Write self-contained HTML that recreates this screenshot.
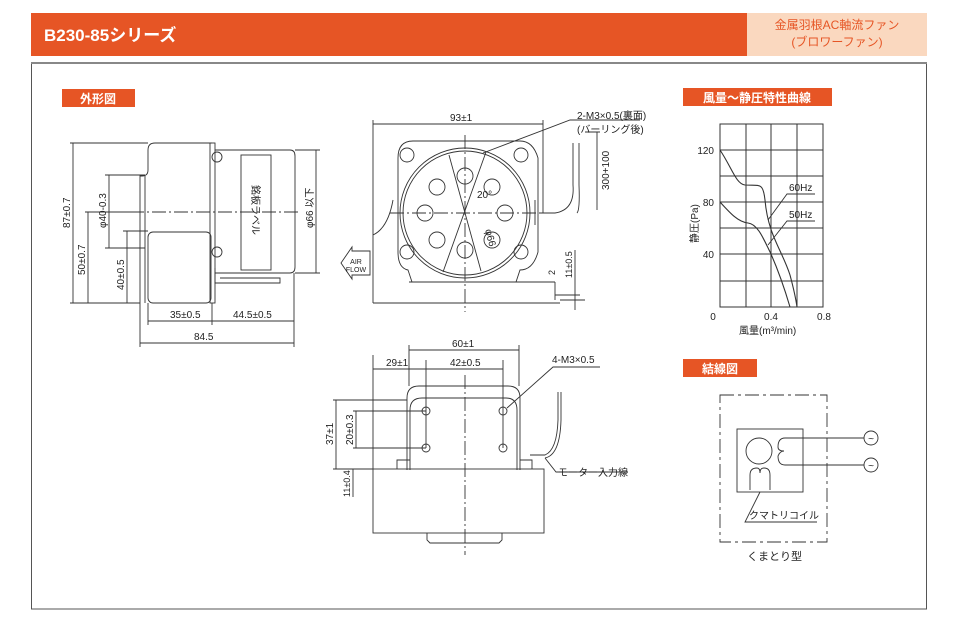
<!DOCTYPE html>
<html><head><meta charset="utf-8"><style>
html,body{margin:0;padding:0;background:#fff;width:960px;height:620px;overflow:hidden}
svg{display:block}
text{font-family:"Liberation Sans","Noto Sans CJK JP",sans-serif;fill:#222}
</style></head><body>
<svg width="960" height="620" viewBox="0 0 960 620" xmlns="http://www.w3.org/2000/svg">
<!-- header -->
<rect x="31" y="13" width="716" height="43" fill="#e65525"/>
<rect x="747" y="13" width="180" height="43" fill="#fad8bf"/>
<text x="44" y="41" font-size="17" font-weight="bold" style="fill:#fff">B230-85シリーズ</text>
<text x="837" y="29" font-size="12" text-anchor="middle" style="fill:#e65525">金属羽根AC軸流ファン</text>
<text x="837" y="46" font-size="12" text-anchor="middle" style="fill:#e65525">(ブロワーファン)</text>
<rect x="31.5" y="63" width="895" height="546" fill="none" stroke="#555" stroke-width="1"/>
<line x1="31" y1="63" x2="927" y2="63" stroke="#888" stroke-width="2"/>
<!-- tabs -->
<rect x="62" y="89" width="73" height="18" fill="#e65525"/>
<text x="98" y="103" font-size="12" font-weight="bold" text-anchor="middle" style="fill:#fff">外形図</text>
<rect x="683" y="88" width="149" height="18" fill="#e65525"/>
<text x="757" y="102" font-size="12" font-weight="bold" text-anchor="middle" style="fill:#fff">風量～静圧特性曲線</text>
<rect x="683" y="359" width="74" height="18" fill="#e65525"/>
<text x="720" y="373" font-size="12" font-weight="bold" text-anchor="middle" style="fill:#fff">結線図</text>

<g fill="none" stroke="#333" stroke-width="0.9">
<!-- side view -->
<path d="M212 143 H155 Q148 143 148 150 V170 Q148 176 142 176 H140 V303"/>
<line x1="145" y1="176" x2="145" y2="303"/>
<rect x="148" y="232" width="63" height="71" rx="5"/>
<rect x="210" y="143" width="5" height="160"/>
<path d="M215 150 H290 Q295 150 295 156 V267 Q295 273 290 273 H215"/>
<rect x="241" y="155" width="30" height="115"/>
<path d="M215 268 V283 H280 V278 H220"/>
<circle cx="217" cy="157" r="5"/><circle cx="217" cy="252" r="5"/>
<line x1="130" y1="212" x2="300" y2="212" stroke-dasharray="14 3 2 3"/>
<!-- side dims -->
<path d="M70 143 H148 M70 303 H140 M85 212 H130 M105 175 H145 M105 248 H145 M123 231 H148 M295 150 H320 M295 273 H320"/>
<path d="M73 143 V303 M88 212 V303 M109 175 V248 M127 231 V303 M316 150 V273"/>
<path d="M148 303 V325 M212 303 V325 M294 273 V347 M140 303 V347 M148 321 H294 M140 343 H294"/>
<!-- front view -->
<path d="M413 141 H520 Q533 141 538 158 V252 Q533 270 520 270 L516 282 H412 L408 270 Q398 268 398 252 V158 Q398 141 413 141 Z"/>
<circle cx="465" cy="213" r="65"/>
<circle cx="465" cy="213" r="62"/>
<g>
<circle cx="407" cy="155" r="7"/><circle cx="521" cy="155" r="7"/><circle cx="407" cy="252" r="7"/><circle cx="521" cy="252" r="7"/>
<circle cx="465" cy="176" r="8"/><circle cx="437" cy="187" r="8"/><circle cx="492" cy="187" r="8"/><circle cx="425" cy="213" r="8"/><circle cx="505" cy="213" r="8"/><circle cx="437" cy="240" r="8"/><circle cx="492" cy="240" r="8"/><circle cx="465" cy="250" r="8"/>
</g>
<line x1="465" y1="135" x2="465" y2="312" stroke-dasharray="14 3 2 3"/>
<line x1="390" y1="213" x2="540" y2="213" stroke-dasharray="14 3 2 3"/>
<path d="M449 155 L481 271 M486 152 L443 272"/>
<path d="M535 200 V225 M540 213 H555 Q575 210 573 185 V143"/>
<path d="M577 213 Q580 210 579 185 V143"/>
<path d="M409 282 H555 M373 303 H560 M373 124 H543 M373 120 V303 M543 120 V213 M373 235 Q388 228 393 200"/>
<path d="M555 282 V300 M555 295 H580 M575 250 V310 M585 300 H560"/>
<path d="M585 132 H600 M597 132 V210 M483 153 L570 120 H640"/>
<path d="M370 251 H352 V247 L341 263 L352 279 V275 H370 Z"/>
<!-- bottom view -->
<path d="M407 470 V398 Q407 386 419 386 H508 Q520 386 520 398 V470"/>
<path d="M410 470 V410 Q410 398 422 398 H506 Q517 398 517 410 V470"/>
<circle cx="426" cy="411" r="4"/><circle cx="503" cy="411" r="4"/><circle cx="426" cy="448" r="4"/><circle cx="503" cy="448" r="4"/>
<rect x="373" y="469" width="171" height="64"/>
<path d="M427 533 V540 L430 543 H499 L502 540 V533"/>
<path d="M397 469 V460 H410 M520 460 H532 V469"/>
<line x1="465" y1="375" x2="465" y2="555" stroke-dasharray="14 3 2 3"/>
<path d="M373 355 V469 M409 345 V386 M519 345 V386 M426 360 V448 M503 360 V448"/>
<path d="M409 350 H519 M373 369 H503"/>
<path d="M333 400 H407 M353 411 H426 M353 448 H426 M333 469 H373"/>
<path d="M336 400 V469 M356 411 V448 M353 469 V497"/>
<path d="M507 408 L553 367 H600 M530 455 H545 Q557 450 558 420 V392 M545 458 Q560 455 561 420 V392 M545 458 L556 472 H628"/>
<!-- chart -->
<rect x="720" y="124" width="103" height="183" stroke-width="1"/>
<path d="M746 124 V307 M771 124 V307 M797 124 V307 M720 150 H823 M720 176 H823 M720 202 H823 M720 228 H823 M720 254 H823 M720 281 H823" stroke-width="1"/>
<path d="M720 150 C732 168 736 184 745 185 C760 186 763 182 765 200 C768 235 782 250 790 275 C794 290 796 300 797 307" stroke-width="1.1"/>
<path d="M720 202 C730 213 738 222 748 223 C758 224 764 240 771 254 C778 270 785 290 790 307" stroke-width="1.1"/>
<path d="M768 220 L787 194 H815 M768 245 L787 221 H815"/>
<!-- wiring -->
<rect x="720" y="395" width="107" height="147" stroke-dasharray="14 4 3 4"/>
<rect x="737" y="429" width="66" height="63"/>
<circle cx="759" cy="451" r="13"/>
<path d="M785 438 H864 M785 465 H864 M785 438 Q778 438 778 447 Q778 451 784 451 Q780 451 778 456 Q778 465 785 465"/>
<circle cx="871" cy="438" r="7"/><circle cx="871" cy="465" r="7"/>
<path d="M750 490 V475 Q750 468 757 468 Q760 468 760 473 Q760 468 764 468 Q770 468 770 475 V490"/>
<path d="M760 492 L745 522 H817"/>
</g>
<!-- side view texts -->
<text x="70" y="228" font-size="10" transform="rotate(-90 70 228)">87±0.7</text>
<text x="85" y="275" font-size="10" transform="rotate(-90 85 275)">50±0.7</text>
<text x="106" y="228" font-size="10" transform="rotate(-90 106 228)">φ40-0.3</text>
<text x="124" y="290" font-size="10" transform="rotate(-90 124 290)">40±0.5</text>
<text x="313" y="228" font-size="10" transform="rotate(-90 313 228)">φ66 以下</text>
<text x="252" y="185" font-size="10" transform="rotate(90 252 185)">銘板ラベル</text>
<text x="170" y="318" font-size="10">35±0.5</text>
<text x="233" y="318" font-size="10">44.5±0.5</text>
<text x="194" y="340" font-size="10">84.5</text>
<!-- front texts -->
<text x="450" y="121" font-size="10">93±1</text>
<text x="577" y="119" font-size="10">2-M3×0.5(裏面)</text>
<text x="577" y="133" font-size="10">(バーリング後)</text>
<text x="609" y="190" font-size="10" transform="rotate(-90 609 190)">300+100</text>
<text x="477" y="198" font-size="10">20°</text>
<text x="485" y="230" font-size="10" transform="rotate(75 485 230)">φ66</text>
<text x="572" y="278" font-size="9" transform="rotate(-90 572 278)">11±0.5</text>
<text x="555" y="275" font-size="9" transform="rotate(-90 555 275)">2</text>
<text x="356" y="264" font-size="7" text-anchor="middle">AIR</text>
<text x="356" y="272" font-size="7" text-anchor="middle">FLOW</text>
<!-- bottom texts -->
<text x="452" y="347" font-size="10">60±1</text>
<text x="386" y="366" font-size="10">29±1</text>
<text x="450" y="366" font-size="10">42±0.5</text>
<text x="552" y="363" font-size="10">4-M3×0.5</text>
<text x="558" y="476" font-size="10">モーター入力線</text>
<text x="333" y="445" font-size="10" transform="rotate(-90 333 445)">37±1</text>
<text x="353" y="445" font-size="10" transform="rotate(-90 353 445)">20±0.3</text>
<text x="350" y="497" font-size="9" transform="rotate(-90 350 497)">11±0.4</text>
<!-- chart texts -->
<text x="714" y="154" font-size="10" text-anchor="end">120</text>
<text x="714" y="206" font-size="10" text-anchor="end">80</text>
<text x="714" y="258" font-size="10" text-anchor="end">40</text>
<text x="713" y="320" font-size="10" text-anchor="middle">0</text>
<text x="771" y="320" font-size="10" text-anchor="middle">0.4</text>
<text x="824" y="320" font-size="10" text-anchor="middle">0.8</text>
<text x="739" y="334" font-size="10">風量(m³/min)</text>
<text x="698" y="243" font-size="10" transform="rotate(-90 698 243)">静圧(Pa)</text>
<text x="789" y="191" font-size="10">60Hz</text>
<text x="789" y="218" font-size="10">50Hz</text>
<!-- wiring texts -->
<text x="749" y="519" font-size="10">クマトリコイル</text>
<text x="747" y="560" font-size="11">くまとり型</text>
<text x="871" y="442" font-size="10" text-anchor="middle">~</text>
<text x="871" y="469" font-size="10" text-anchor="middle">~</text>
</svg>
</body></html>
